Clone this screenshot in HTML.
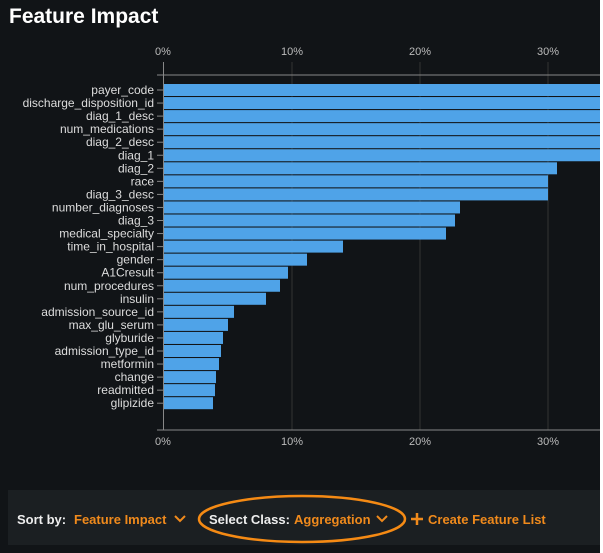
<!DOCTYPE html><html><head><style>
body{margin:0;width:603px;height:553px;background:#fff;overflow:hidden;font-family:"Liberation Sans",sans-serif}
#m{position:absolute;left:0;top:0;width:600px;height:553px;background:#111417}
</style></head><body><div id="m"></div>
<svg width="603" height="553" style="position:absolute;left:0;top:0">
<text x="9" y="23" fill="#fff" font-size="21" font-weight="bold">Feature Impact</text>
<g stroke="#333" stroke-width="1">
<line x1="292" y1="62" x2="292" y2="430"/><line x1="420" y1="62" x2="420" y2="430"/><line x1="548" y1="62" x2="548" y2="430"/>
</g>
<g stroke="#888" stroke-width="1">
<line x1="157" y1="75" x2="600" y2="75"/><line x1="157" y1="430" x2="600" y2="430"/>
<line x1="163.5" y1="62" x2="163.5" y2="430"/>
</g>
<g fill="#bbb" font-size="11" text-anchor="middle">
<text x="163" y="55">0%</text><text x="292" y="55">10%</text><text x="420" y="55">20%</text><text x="548" y="55">30%</text>
<text x="163" y="445">0%</text><text x="292" y="445">10%</text><text x="420" y="445">20%</text><text x="548" y="445">30%</text>
</g>
<g id="bars" fill="#4fa3e8"></g>
<g id="labs" fill="#ddd" font-size="12" text-anchor="end"></g>
<rect x="8" y="490" width="592" height="55" fill="#1b1f22"/>
<text x="17" y="524" fill="#eee" font-size="13" font-weight="bold">Sort by:</text>
<text x="74" y="524" fill="#f08a1c" font-size="13" font-weight="bold">Feature Impact</text>
<polyline points="175,516 180,521 185,516" fill="none" stroke="#f08a1c" stroke-width="2"/>
<text x="209" y="524" fill="#eee" font-size="13" font-weight="bold">Select Class:</text>
<text x="294" y="524" fill="#f08a1c" font-size="13" font-weight="bold">Aggregation</text>
<polyline points="377,516 382,521 387,516" fill="none" stroke="#f08a1c" stroke-width="2"/>
<ellipse cx="302" cy="519" rx="103" ry="23" fill="none" stroke="#f58a14" stroke-width="2.5"/>
<path d="M411 519h12M417 513v12" stroke="#f08a1c" stroke-width="2.5"/>
<text x="428" y="524" fill="#f08a1c" font-size="13" font-weight="bold">Create Feature List</text>
</svg>
<script>
var d=[["payer_code",600],["discharge_disposition_id",600],["diag_1_desc",600],["num_medications",600],["diag_2_desc",600],["diag_1",600],["diag_2",557],["race",548],["diag_3_desc",548],["number_diagnoses",460],["diag_3",455],["medical_specialty",446],["time_in_hospital",343],["gender",307],["A1Cresult",288],["num_procedures",280],["insulin",266],["admission_source_id",234],["max_glu_serum",228],["glyburide",223],["admission_type_id",221],["metformin",219],["change",216],["readmitted",215],["glipizide",213]];
var b=document.getElementById('bars'),l=document.getElementById('labs'),ns="http://www.w3.org/2000/svg";
d.forEach(function(r,i){var y=84+i*13.05;
var R=document.createElementNS(ns,'rect');R.setAttribute('x',164);R.setAttribute('y',y);R.setAttribute('width',r[1]-164);R.setAttribute('height',12);b.appendChild(R);
var T=document.createElementNS(ns,'text');T.setAttribute('x',154);T.setAttribute('y',y+10);T.textContent=r[0];l.appendChild(T);
var L=document.createElementNS(ns,'line');L.setAttribute('x1',157);L.setAttribute('x2',163);L.setAttribute('y1',y+6);L.setAttribute('y2',y+6);L.setAttribute('stroke','#888');l.appendChild(L);});
</script>
</body></html>
